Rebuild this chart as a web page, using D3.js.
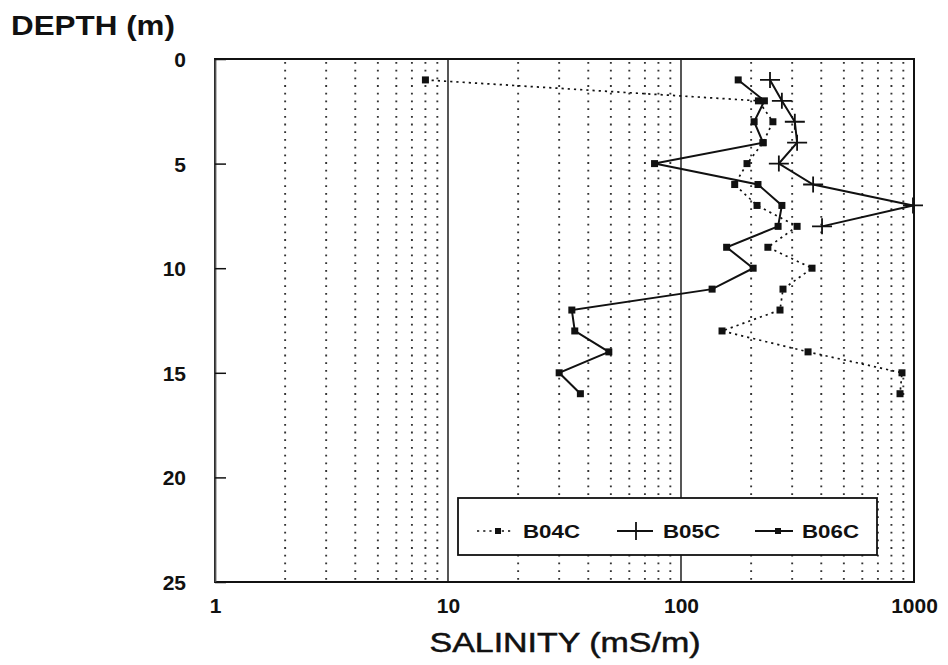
<!DOCTYPE html>
<html><head><meta charset="utf-8">
<script src="https://cdn.jsdelivr.net/npm/d3@7"></script>
<style>
html,body{margin:0;padding:0;background:#fff;}
svg{display:block;font-family:"Liberation Sans",Arial,Helvetica,sans-serif;}
</style></head>
<body>
<svg id="chart" width="948" height="665"></svg>
<script>
// ---- data ----
const seriesNames = ["B04C", "B05C", "B06C"];
const depthsB04C = [1,2,3,4,5,6,7,8,9,10,11,12,13,14,15,16];
const salinityB04C = [8, 215, 248, 225, 192, 170, 212, 315, 236, 365, 274, 266, 150, 351, 888, 871];
const depthsB05C = [1,2,3,4,5,6,7,8];
const salinityB05C = [241, 271, 308, 315, 263, 369, 990, 403];
const depthsB06C = [1,2,3,4,5,6,7,8,9,10,11,12,13,14,15,16];
const salinityB06C = [176, 228, 206, 225, 77, 214, 271, 261, 157, 204, 136, 34, 35, 49, 30, 37];
const xTicks = [1, 10, 100, 1000];
const yTicks = [0, 5, 10, 15, 20, 25];

const svg = d3.select("#chart");
const L = 215, R = 914, T = 59, B = 582;
const x = d3.scaleLog().domain([1, 1000]).range([L, R]);
const y = d3.scaleLinear().domain([0, 25]).range([T, B]);
const ink = "#111";

// grid
const minor = [];
for (let k = 0; k < 3; k++) for (let m = 2; m <= 9; m++) minor.push(m * Math.pow(10, k));
svg.append("g").selectAll("line").data(minor).join("line")
  .attr("x1", d => x(d)).attr("x2", d => x(d)).attr("y1", T + 3).attr("y2", B)
  .attr("stroke", "#333").attr("stroke-width", 1.9).attr("stroke-dasharray", "1.8,5.9");
svg.append("g").selectAll("line").data([10, 100]).join("line")
  .attr("x1", d => x(d)).attr("x2", d => x(d)).attr("y1", T).attr("y2", B)
  .attr("stroke", "#444").attr("stroke-width", 1.8);

// frame
svg.append("rect").attr("x", L).attr("y", T).attr("width", R - L).attr("height", B - T)
  .attr("fill", "none").attr("stroke", ink).attr("stroke-width", 2);

// y axis
const yAxis = d3.axisLeft(y).tickValues(yTicks).tickSizeInner(-11).tickSizeOuter(0).tickPadding(40).tickFormat(d3.format("d"));
const gy = svg.append("g").attr("transform", `translate(${L},0)`).call(yAxis);
gy.select(".domain").attr("stroke", "#555").attr("stroke-width", 1.8);
gy.selectAll(".tick line").attr("stroke", ink).attr("stroke-width", 1.5);
gy.selectAll(".tick text").attr("font-size", 21).attr("font-weight", "bold").attr("fill", ink)
  .attr("x", -29).attr("dy", "0.36em");

// x axis
const xAxis = d3.axisBottom(x).tickValues(xTicks).tickSize(0).tickPadding(16).tickFormat(d3.format("d"));
const gx = svg.append("g").attr("transform", `translate(0,${B})`).call(xAxis);
gx.select(".domain").remove();
gx.selectAll(".tick text").attr("font-size", 21).attr("font-weight", "bold").attr("fill", ink);

// titles
svg.append("text").attr("x", 11).attr("y", 35).attr("font-size", 28).attr("font-weight", "bold")
  .attr("fill", ink).attr("textLength", 164).attr("lengthAdjust", "spacingAndGlyphs").text("DEPTH (m)");
svg.append("text").attr("x", 565).attr("y", 652).attr("text-anchor", "middle").attr("font-size", 28)
  .attr("fill", ink).attr("stroke", ink).attr("stroke-width", 0.5)
  .attr("textLength", 271).attr("lengthAdjust", "spacingAndGlyphs").text("SALINITY (mS/m)");

// series
const series = [
  {name: seriesNames[0], d: depthsB04C, v: salinityB04C, dash: "2.2,4", marker: "square", w: 1.7},
  {name: seriesNames[1], d: depthsB05C, v: salinityB05C, dash: null, marker: "plus", w: 2},
  {name: seriesNames[2], d: depthsB06C, v: salinityB06C, dash: null, marker: "square", w: 2}
];
const line = d3.line().x(p => x(p[0])).y(p => y(p[1]));
series.forEach(s => {
  const pts = s.v.map((v, i) => [v, s.d[i]]);
  const g = svg.append("g");
  g.append("path").datum(pts).attr("d", line).attr("fill", "none").attr("stroke", ink)
    .attr("stroke-width", s.w).attr("stroke-dasharray", s.dash);
  if (s.marker === "square") {
    g.selectAll("rect").data(pts).join("rect")
      .attr("x", p => x(p[0]) - 3.5).attr("y", p => y(p[1]) - 3.5).attr("width", 7).attr("height", 7).attr("fill", ink);
  } else {
    g.selectAll("path.pl").data(pts).join("path").attr("class", "pl")
      .attr("d", p => `M${x(p[0]) - 10},${y(p[1])}H${x(p[0]) + 10}M${x(p[0])},${y(p[1]) - 8}V${y(p[1]) + 8}`)
      .attr("stroke", ink).attr("stroke-width", 1.8).attr("fill", "none");
  }
});

// legend
const lg = svg.append("g");
lg.append("rect").attr("x", 458).attr("y", 498).attr("width", 419).attr("height", 57)
  .attr("fill", "#fff").attr("stroke", ink).attr("stroke-width", 1.8);
const items = [
  {s: series[0], x1: 477, x2: 512, mx: 498, tx: 523},
  {s: series[1], x1: 617, x2: 653, mx: 636, tx: 663},
  {s: series[2], x1: 755, x2: 793, mx: 778, tx: 802}
];
const ly = 531;
items.forEach(it => {
  lg.append("line").attr("x1", it.x1).attr("x2", it.x2).attr("y1", ly).attr("y2", ly)
    .attr("stroke", ink).attr("stroke-width", it.s.w).attr("stroke-dasharray", it.s.dash);
  if (it.s.marker === "square") {
    lg.append("rect").attr("x", it.mx - 3).attr("y", ly - 3).attr("width", 6).attr("height", 6).attr("fill", ink);
  } else {
    lg.append("line").attr("x1", it.mx).attr("x2", it.mx).attr("y1", ly - 9).attr("y2", ly + 9)
      .attr("stroke", ink).attr("stroke-width", 1.8);
  }
  lg.append("text").attr("x", it.tx).attr("y", 538).attr("font-size", 18).attr("font-weight", "bold")
    .attr("fill", ink).attr("textLength", 57).attr("lengthAdjust", "spacingAndGlyphs").text(it.s.name);
});
</script>
</body></html>
